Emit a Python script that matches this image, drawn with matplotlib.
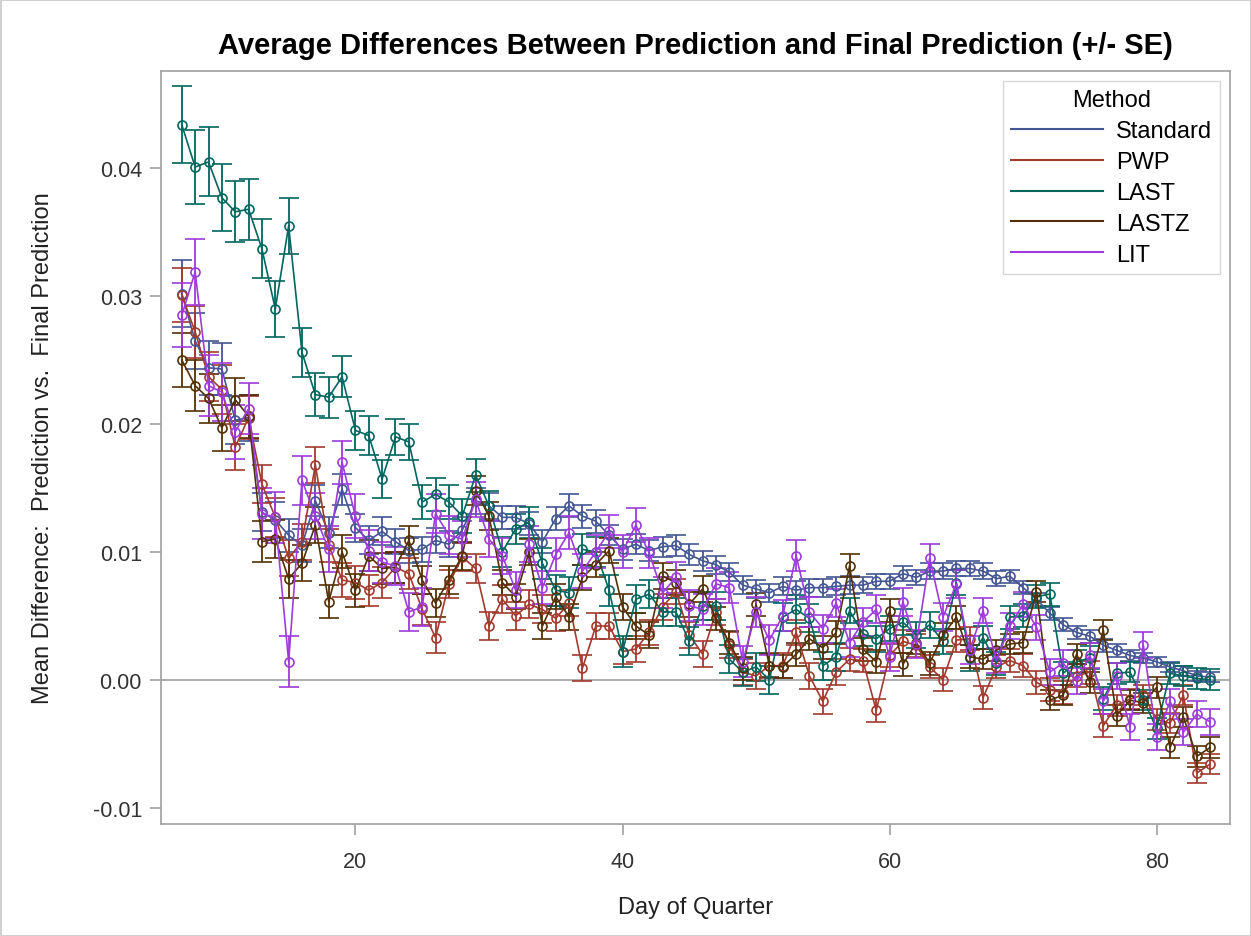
import numpy as np
import matplotlib
matplotlib.use("Agg")
import matplotlib.pyplot as plt
from matplotlib.lines import Line2D

plt.rcParams['font.family'] = ['Liberation Sans', 'DejaVu Sans']

days = list(range(7, 85))

standard = [0.0302, 0.0265, 0.0244, 0.0243, 0.0203, 0.0205, 0.0131, 0.0125, 0.0113, 0.0105,
            0.0140, 0.0115, 0.0149, 0.0119, 0.0109, 0.0116, 0.0108, 0.0101, 0.0102, 0.0109,
            0.0106, 0.0117, 0.0140, 0.0136, 0.0127, 0.0127, 0.0122, 0.0108, 0.0126, 0.0136,
            0.0128, 0.0124, 0.0113, 0.0102, 0.0106, 0.0101, 0.0104, 0.0105, 0.0098, 0.0093,
            0.0090, 0.0084, 0.0074, 0.0071, 0.0068, 0.0073, 0.0070, 0.0072, 0.0072, 0.0073,
            0.0074, 0.0074, 0.0077, 0.0077, 0.0083, 0.0080, 0.0085, 0.0085, 0.0087, 0.0087,
            0.0085, 0.0079, 0.0081, 0.0072, 0.0063, 0.0052, 0.0043, 0.0037, 0.0034, 0.0027,
            0.0023, 0.0019, 0.0017, 0.0014, 0.0010, 0.0007, 0.0003, 0.0002]

pwp = [0.0301, 0.0272, 0.0237, 0.0227, 0.0182, 0.0205, 0.0153, 0.0127, 0.0095, 0.0108,
       0.0168, 0.0105, 0.0078, 0.0076, 0.0070, 0.0076, 0.0088, 0.0083, 0.0055, 0.0033,
       0.0075, 0.0096, 0.0087, 0.0042, 0.0063, 0.0050, 0.0059, 0.0055, 0.0048, 0.0060,
       0.0009, 0.0042, 0.0042, 0.0022, 0.0024, 0.0037, 0.0057, 0.0069, 0.0035, 0.0020,
       0.0053, 0.0027, 0.0006, 0.0003, 0.0011, 0.0011, 0.0037, 0.0003, -0.0017, 0.0006,
       0.0016, 0.0015, -0.0024, 0.0019, 0.0030, 0.0027, 0.0010, 0.0000, 0.0031, 0.0032,
       -0.0014, 0.0010, 0.0015, 0.0011, -0.0002, -0.0008, -0.0010, 0.0003, 0.0006, -0.0036,
       -0.0020, -0.0015, -0.0012, -0.0031, -0.0034, -0.0012, -0.0073, -0.0066]

last = [0.0434, 0.0401, 0.0405, 0.0377, 0.0366, 0.0368, 0.0337, 0.0290, 0.0355, 0.0256,
        0.0223, 0.0221, 0.0237, 0.0195, 0.0191, 0.0157, 0.0190, 0.0186, 0.0139, 0.0145,
        0.0139, 0.0128, 0.0160, 0.0136, 0.0100, 0.0118, 0.0123, 0.0091, 0.0070, 0.0068,
        0.0102, 0.0100, 0.0070, 0.0022, 0.0063, 0.0067, 0.0053, 0.0053, 0.0030, 0.0058,
        0.0058, 0.0016, 0.0006, 0.0010, 0.0000, 0.0049, 0.0055, 0.0048, 0.0011, 0.0018,
        0.0054, 0.0036, 0.0032, 0.0040, 0.0045, 0.0035, 0.0043, 0.0030, 0.0076, 0.0017,
        0.0033, 0.0013, 0.0049, 0.0050, 0.0065, 0.0067, 0.0005, 0.0014, 0.0017, -0.0015,
        0.0005, 0.0006, -0.0016, -0.0038, 0.0005, 0.0003, 0.0001, 0.0000]

lastz = [0.0250, 0.0230, 0.0220, 0.0197, 0.0219, 0.0206, 0.0108, 0.0110, 0.0079, 0.0091,
         0.0121, 0.0061, 0.0100, 0.0070, 0.0097, 0.0087, 0.0088, 0.0109, 0.0078, 0.0060,
         0.0078, 0.0097, 0.0148, 0.0128, 0.0076, 0.0065, 0.0100, 0.0042, 0.0065, 0.0049,
         0.0080, 0.0090, 0.0101, 0.0057, 0.0042, 0.0035, 0.0081, 0.0076, 0.0059, 0.0071,
         0.0048, 0.0029, 0.0009, 0.0059, 0.0011, 0.0010, 0.0020, 0.0032, 0.0025, 0.0037,
         0.0089, 0.0024, 0.0014, 0.0054, 0.0012, 0.0029, 0.0013, 0.0035, 0.0049, 0.0018,
         0.0016, 0.0023, 0.0028, 0.0029, 0.0069, -0.0016, -0.0012, 0.0020, -0.0002, 0.0039,
         -0.0028, -0.0016, -0.0018, -0.0006, -0.0053, -0.0029, -0.0060, -0.0053]

lit = [0.0285, 0.0319, 0.0230, 0.0225, 0.0194, 0.0212, 0.0130, 0.0127, 0.0014, 0.0156,
       0.0128, 0.0102, 0.0170, 0.0128, 0.0101, 0.0092, 0.0089, 0.0053, 0.0057, 0.0130,
       0.0113, 0.0110, 0.0141, 0.0110, 0.0097, 0.0070, 0.0106, 0.0072, 0.0098, 0.0115,
       0.0085, 0.0100, 0.0116, 0.0100, 0.0121, 0.0099, 0.0068, 0.0080, 0.0058, 0.0055,
       0.0075, 0.0072, 0.0014, 0.0053, 0.0031, 0.0050, 0.0097, 0.0053, 0.0040, 0.0060,
       0.0029, 0.0045, 0.0055, 0.0018, 0.0061, 0.0028, 0.0095, 0.0049, 0.0075, 0.0023,
       0.0054, 0.0015, 0.0042, 0.0059, 0.0041, 0.0006, 0.0013, -0.0001, 0.0019, -0.0017,
       0.0003, -0.0037, 0.0027, -0.0045, -0.0017, -0.0041, -0.0027, -0.0033]

# standard errors (half-length of the bars)
se_standard = [0.0026, 0.0022, 0.0021, 0.0020, 0.0019, 0.0018, 0.0015, 0.0014, 0.0013, 0.0013,
               0.0012, 0.0012, 0.0012, 0.0011, 0.0011, 0.0011, 0.0010, 0.0010, 0.0010, 0.0010,
               0.0010, 0.0010, 0.0010, 0.0010, 0.0009, 0.0009, 0.0009, 0.0009, 0.0009, 0.0009,
               0.0009, 0.0009, 0.0008, 0.0008, 0.0008, 0.0008, 0.0008, 0.0008, 0.0008, 0.0008,
               0.0007, 0.0007, 0.0007, 0.0007, 0.0007, 0.0007, 0.0007, 0.0007, 0.0007, 0.0007,
               0.0007, 0.0006, 0.0006, 0.0006, 0.0006, 0.0006, 0.0006, 0.0006, 0.0006, 0.0006,
               0.0006, 0.0006, 0.0005, 0.0005, 0.0005, 0.0005, 0.0005, 0.0005, 0.0005, 0.0005,
               0.0005, 0.0004, 0.0004, 0.0004, 0.0004, 0.0004, 0.0004, 0.0004]
se_pwp = [0.0021, 0.0020, 0.0019, 0.0019, 0.0018, 0.0017, 0.0015, 0.0015, 0.0014, 0.0014,
          0.0014, 0.0013, 0.0013, 0.0013, 0.0012, 0.0012, 0.0012, 0.0012, 0.0012, 0.0012,
          0.0011, 0.0011, 0.0011, 0.0011, 0.0011, 0.0011, 0.0011, 0.0011, 0.0010, 0.0010,
          0.0010, 0.0010, 0.0010, 0.0010, 0.0010, 0.0010, 0.0010, 0.0010, 0.0010, 0.0010,
          0.0010, 0.0010, 0.0010, 0.0010, 0.0010, 0.0010, 0.0010, 0.0010, 0.0010, 0.0010,
          0.0009, 0.0009, 0.0009, 0.0009, 0.0009, 0.0009, 0.0009, 0.0009, 0.0009, 0.0009,
          0.0009, 0.0009, 0.0009, 0.0009, 0.0009, 0.0009, 0.0009, 0.0009, 0.0009, 0.0009,
          0.0008, 0.0008, 0.0008, 0.0008, 0.0008, 0.0008, 0.0008, 0.0008]
se_last = [0.0030, 0.0029, 0.0027, 0.0026, 0.0024, 0.0024, 0.0023, 0.0022, 0.0022, 0.0019,
           0.0017, 0.0016, 0.0016, 0.0015, 0.0015, 0.0015, 0.0014, 0.0014, 0.0013, 0.0013,
           0.0013, 0.0013, 0.0013, 0.0012, 0.0012, 0.0012, 0.0012, 0.0012, 0.0012, 0.0012,
           0.0012, 0.0012, 0.0012, 0.0012, 0.0011, 0.0011, 0.0011, 0.0011, 0.0011, 0.0011,
           0.0011, 0.0011, 0.0011, 0.0011, 0.0011, 0.0011, 0.0011, 0.0011, 0.0011, 0.0011,
           0.0010, 0.0010, 0.0010, 0.0010, 0.0010, 0.0010, 0.0010, 0.0010, 0.0010, 0.0010,
           0.0009, 0.0009, 0.0009, 0.0009, 0.0009, 0.0009, 0.0009, 0.0009, 0.0009, 0.0009,
           0.0008, 0.0008, 0.0008, 0.0008, 0.0008, 0.0008, 0.0008, 0.0008]
se_lastz = [0.0021, 0.0020, 0.0019, 0.0018, 0.0017, 0.0017, 0.0016, 0.0015, 0.0015, 0.0014,
            0.0014, 0.0013, 0.0013, 0.0013, 0.0012, 0.0012, 0.0012, 0.0011, 0.0011, 0.0011,
            0.0011, 0.0011, 0.0011, 0.0011, 0.0010, 0.0010, 0.0010, 0.0010, 0.0010, 0.0010,
            0.0010, 0.0010, 0.0010, 0.0010, 0.0010, 0.0010, 0.0010, 0.0010, 0.0010, 0.0010,
            0.0009, 0.0009, 0.0009, 0.0009, 0.0009, 0.0009, 0.0009, 0.0009, 0.0009, 0.0009,
            0.0009, 0.0009, 0.0009, 0.0009, 0.0009, 0.0009, 0.0009, 0.0009, 0.0009, 0.0009,
            0.0008, 0.0008, 0.0008, 0.0008, 0.0008, 0.0008, 0.0008, 0.0008, 0.0008, 0.0008,
            0.0008, 0.0008, 0.0008, 0.0008, 0.0008, 0.0008, 0.0008, 0.0008]
se_lit = [0.0025, 0.0026, 0.0024, 0.0023, 0.0021, 0.0020, 0.0020, 0.0020, 0.0020, 0.0019,
          0.0018, 0.0018, 0.0017, 0.0017, 0.0016, 0.0016, 0.0015, 0.0015, 0.0015, 0.0015,
          0.0015, 0.0014, 0.0014, 0.0014, 0.0014, 0.0014, 0.0014, 0.0013, 0.0013, 0.0013,
          0.0013, 0.0013, 0.0013, 0.0013, 0.0013, 0.0012, 0.0012, 0.0012, 0.0012, 0.0012,
          0.0012, 0.0012, 0.0012, 0.0012, 0.0012, 0.0012, 0.0012, 0.0012, 0.0011, 0.0011,
          0.0011, 0.0011, 0.0011, 0.0011, 0.0011, 0.0011, 0.0011, 0.0011, 0.0011, 0.0011,
          0.0010, 0.0010, 0.0010, 0.0010, 0.0010, 0.0010, 0.0010, 0.0010, 0.0010, 0.0010,
          0.0010, 0.0010, 0.0010, 0.0010, 0.0010, 0.0010, 0.0010, 0.0010]

names = ["Standard", "PWP", "LAST", "LASTZ", "LIT"]
colors = ["#445694", "#A23A2E", "#01665E", "#543005", "#9D3CDB"]
series = [standard, pwp, last, lastz, lit]
errors = [se_standard, se_pwp, se_last, se_lastz, se_lit]

fig = plt.figure(figsize=(12.51, 9.37), dpi=100)
fig.patch.set_edgecolor("#d0d0d0")
fig.patch.set_linewidth(2)
ax = fig.add_axes([0.129, 0.120, 0.854, 0.803])

ax.axhline(0, color="#a0a0a0", lw=1.2, zorder=1)

for name, col, y, e in zip(names, colors, series, errors):
    ax.errorbar(days, y, yerr=e, fmt="-o", color=col, mfc="none", mec=col,
                ms=6.5, mew=1.2, lw=1.2, elinewidth=1.3, capsize=7.5, capthick=1.3,
                zorder=2)

ax.set_xlim(5.47, 85.47)
ax.set_ylim(-0.01125, 0.0476)
ax.set_xticks([20, 40, 60, 80])
ax.set_yticks([-0.01, 0.0, 0.01, 0.02, 0.03, 0.04])
ax.yaxis.set_major_formatter(plt.FormatStrFormatter("%.2f"))
ax.tick_params(labelsize=15.5, colors="#333333", length=8, color="#a0a0a0", width=1.2)
ax.tick_params(axis="y", pad=6)
ax.tick_params(axis="x", pad=12)
for s in ax.spines.values():
    s.set_color("#a0a0a0")
    s.set_linewidth(1.2)

ax.set_xlabel("Day of Quarter", fontsize=17, color="#222222", labelpad=17)
ax.set_ylabel("Mean Difference:  Prediction vs.  Final Prediction", fontsize=17,
              color="#222222", labelpad=28)
ax.set_title("Average Differences Between Prediction and Final Prediction (+/- SE)",
             fontsize=21, fontweight="bold", pad=13)

handles = [Line2D([0], [0], color=c, lw=1.5) for c in colors]
leg = ax.legend(handles, names, title="Method", loc="upper right", fontsize=17,
                title_fontsize=17, handlelength=3.9, handletextpad=0.55,
                frameon=True, fancybox=False, edgecolor="#cccccc",
                borderaxespad=0.4, labelspacing=0.38, borderpad=0.35)
leg.get_frame().set_linewidth(1.0)

fig.savefig("out.png", dpi=100)
